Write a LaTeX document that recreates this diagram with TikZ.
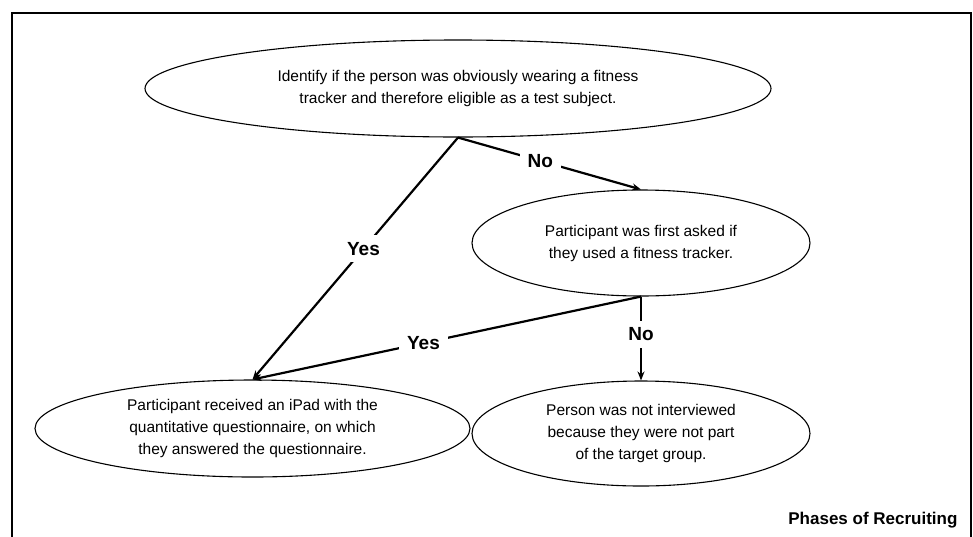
\documentclass[tikz,border=0pt]{standalone}
\usepackage{fontspec}
\setmainfont{Liberation Sans}
\usetikzlibrary{arrows.meta,shapes.geometric}
\begin{document}
\begin{tikzpicture}[x=1pt,y=-1pt,
    phase/.style={draw,ellipse,line width=1.1pt,inner sep=0pt,align=center,
      font=\fontsize{15.5}{22}\selectfont},
    choice/.style={line width=2.2pt,-{Stealth[length=9pt,width=7pt]}},
    answer/.style={fill=white,inner xsep=8pt,inner ysep=7pt,font=\fontsize{19}{22}\selectfont\bfseries}]
   \useasboundingbox (0,0) rectangle (973,536);
   \draw[line width=2.4pt] (12,537) -- (12,13) -- (971,13) -- (971,537);
   \node[phase,minimum width=626pt,minimum height=97pt] (spot) at (458,88.5)
      {Identify if the person was obviously wearing a fitness\\tracker and therefore eligible as a test subject.};
   \node[phase,minimum width=338pt,minimum height=106pt] (ask) at (641,243)
      {Participant was first asked if\\they used a fitness tracker.};
   \node[phase,minimum width=435pt,minimum height=97pt] (ipad) at (252.5,428.5)
      {Participant received an iPad with the\\quantitative questionnaire, on which\\they answered the questionnaire.};
   \node[phase,minimum width=338pt,minimum height=105pt] (skip) at (641,433.5)
      {Person was not interviewed\\because they were not part\\of the target group.};
   \draw[choice] (spot.south) -- node[answer,pos=0.46] {Yes} (ipad.north);
   \draw[choice] (spot.south) -- node[answer,pos=0.45] {No} (ask.north);
   \draw[choice] (ask.south) -- node[answer,pos=0.56] {Yes} (ipad.north);
   \draw[choice] (ask.south) -- node[answer,pos=0.45] {No} (skip.north);
   \node[anchor=east,font=\fontsize{17}{20}\selectfont\bfseries] (title) at (961,520) {Phases of Recruiting};
\end{tikzpicture}
\end{document}
